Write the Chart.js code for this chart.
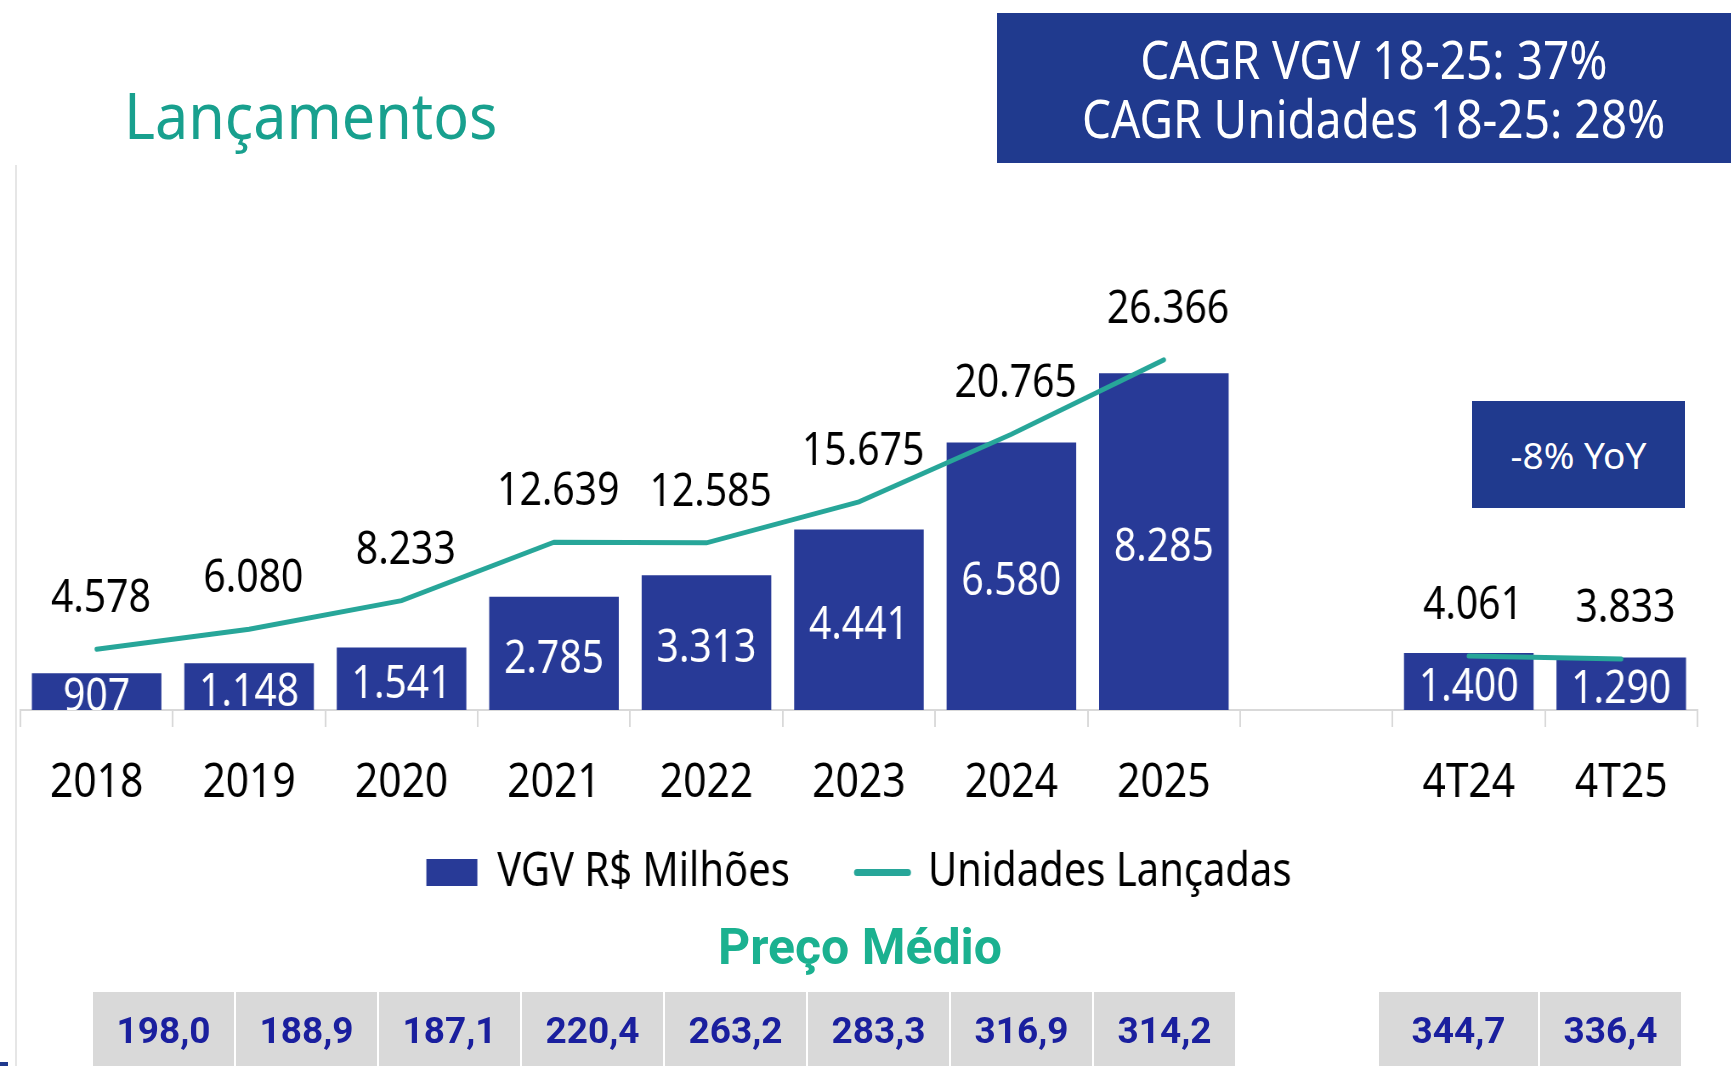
<!DOCTYPE html>
<html>
<head>
<meta charset="utf-8">
<script src="https://cdn.jsdelivr.net/npm/chart.js@4.4.1/dist/chart.umd.min.js"></script>
<style>
  html, body { margin: 0; padding: 0; background: #fff; }
  body { position: relative; width: 1731px; height: 1066px; overflow: hidden; font-family: 'Noto Sans', sans-serif; }
  #wrap { position: absolute; left: 0; top: 0; width: 2036px; height: 1066px; transform: scaleX(0.85); transform-origin: 0 0; }
  #title { position: absolute; left: 124px; top: 83px; font-size: 63px; line-height: 1; color: #18a08e; transform: scaleX(0.94); transform-origin: 0 0; white-space: nowrap; }
  #cagr { position: absolute; left: 997px; top: 13px; width: 734px; height: 150px; box-sizing: border-box; padding-left: 20px;
          background: #203a8e; color: #fff; display: flex; flex-direction: column; justify-content: center; align-items: center;
          font-size: 52px; line-height: 59px; }
  #cagr span { display: block; transform: scaleX(0.885); white-space: nowrap; }
  #yoy { position: absolute; left: 1472px; top: 401px; width: 213px; height: 107px; background: #203a8e; color: #fff;
         font-size: 37px; display: flex; align-items: center; justify-content: center; }
  #leftline { position: absolute; left: 15px; top: 165px; width: 2px; height: 901px; background: #e6e6e6; }
  #mark { position: absolute; left: 0; top: 1062px; width: 8px; height: 4px; background: #203a8e; }
  #preco { position: absolute; left: 860px; top: 922px; transform: translateX(-50%); font-family: Roboto, sans-serif; font-weight: 700;
           font-size: 50px; line-height: 1; color: #1bb190; white-space: nowrap; }
  #tabela { position: absolute; left: 93px; top: 992px; display: flex; gap: 2px; }
  .cell { width: 141px; height: 78px; background: #d9d9d9; text-align: center; line-height: 78px; font-family: Roboto, sans-serif;
          font-weight: 700; font-size: 37px; color: #1a1f9e; }
  .cell.q1 { width: 159px; }
  .cell.q2 { width: 141px; }
  .vazio { width: 140px; }
</style>
</head>
<body>
<div id="leftline"></div>
<div id="wrap"><canvas id="grafico" width="2036" height="1066"></canvas></div>
<div id="title">Lançamentos</div>
<div id="cagr"><span>CAGR VGV 18-25: 37%</span><span>CAGR Unidades 18-25: 28%</span></div>
<div id="yoy">-8% YoY</div>
<div id="preco">Preço Médio</div>
<div id="tabela"></div>
<div id="mark"></div>
<script>
// dados
const categorias = ['2018', '2019', '2020', '2021', '2022', '2023', '2024', '2025', '', '4T24', '4T25'];
const vgv = [907, 1148, 1541, 2785, 3313, 4441, 6580, 8285, null, 1400, 1290];
const unidades = [4578, 6080, 8233, 12639, 12585, 15675, 20765, 26366, null, 4061, 3833];
const precoMedio = [198.0, 188.9, 187.1, 220.4, 263.2, 283.3, 316.9, 314.2, null, 344.7, 336.4];

const fmt = v => String(v).replace(/\B(?=(\d{3})+(?!\d))/g, '.');

// tabela do preco medio
const tabela = document.getElementById('tabela');
let aposVazio = 0;
precoMedio.forEach(p => {
  const d = document.createElement('div');
  if (p == null) {
    d.className = 'vazio';
    aposVazio = 1;
  } else {
    d.className = aposVazio ? 'cell q' + aposVazio++ : 'cell';
    d.textContent = p.toFixed(1).replace('.', ',');
  }
  tabela.appendChild(d);
});

Chart.defaults.font.family = "'Noto Sans', sans-serif";

// rotulos das barras (brancos, no meio) e da linha (pretos, acima)
const rotulos = {
  id: 'rotulos',
  afterDatasetsDraw(chart) {
    const ctx = chart.ctx;
    const a = chart.chartArea;
    ctx.save();
    ctx.font = '46px "Noto Sans"';
    ctx.textAlign = 'center';
    ctx.textBaseline = 'middle';

    ctx.save();
    ctx.beginPath();
    ctx.rect(a.left, a.top, a.right - a.left, a.bottom - a.top);
    ctx.clip();
    ctx.fillStyle = '#fff';
    chart.getDatasetMeta(0).data.forEach((el, i) => {
      if (vgv[i] == null) return;
      ctx.fillText(fmt(vgv[i]), el.x, (el.y + el.base) / 2 + 6);
    });
    ctx.restore();

    ctx.fillStyle = '#000';
    chart.getDatasetMeta(1).data.forEach((el, i) => {
      if (unidades[i] == null) return;
      ctx.fillText(fmt(unidades[i]), el.x + 5, el.y - 50);
    });
    ctx.restore();
  }
};

new Chart(document.getElementById('grafico'), {
  type: 'bar',
  data: {
    labels: categorias,
    datasets: [{
      label: 'VGV R$ Milhões',
      data: vgv,
      backgroundColor: '#283a97',
      borderWidth: 0,
      barPercentage: 0.85,
      categoryPercentage: 1,
      pointStyle: 'rect',
      yAxisID: 'y',
      order: 1
    }, {
      type: 'line',
      label: 'Unidades Lançadas',
      data: unidades,
      borderColor: '#27a699',
      backgroundColor: '#27a699',
      borderWidth: 5,
      borderCapStyle: 'round',
      pointRadius: 0,
      pointStyle: 'line',
      tension: 0,
      spanGaps: false,
      yAxisID: 'y2',
      order: 0
    }]
  },
  options: {
    responsive: false,
    devicePixelRatio: 1,
    animation: false,
    layout: { padding: { left: 24, right: 39, top: 200, bottom: 160 } },
    scales: {
      x: {
        grid: { drawOnChartArea: false, color: '#d9d9d9', lineWidth: 2, tickLength: 17, offset: true },
        border: { color: '#d9d9d9', width: 2 },
        // mirror evita o recorte dos rotulos; padding negativo os poe abaixo do eixo
        ticks: { color: '#000', font: { size: 48 }, mirror: true, padding: -102, maxRotation: 0, autoSkip: false },
        afterFit(scale) { scale.height = 60; }
      },
      y: { display: false, min: 0, max: 12550 },
      y2: { display: false, min: 0, max: 38400 }
    },
    plugins: {
      tooltip: { enabled: false },
      legend: {
        position: 'bottom',
        labels: {
          usePointStyle: true,
          pointStyleWidth: 60,
          boxHeight: 27,
          padding: 79,
          color: '#000',
          font: { size: 47 },
          sort: (a, b) => a.datasetIndex - b.datasetIndex,
          generateLabels(chart) {
            const items = Chart.defaults.plugins.legend.labels.generateLabels(chart);
            items.forEach(it => {
              if (it.datasetIndex === 1) { it.lineWidth = 7; it.lineCap = 'round'; }
            });
            return items;
          }
        }
      }
    }
  },
  plugins: [rotulos]
});
</script>
</body>
</html>
